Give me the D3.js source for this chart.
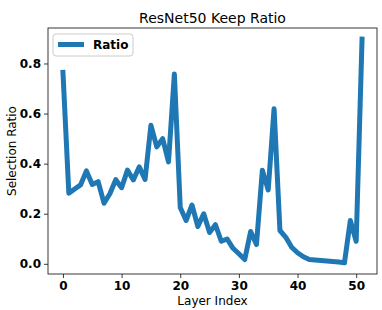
<!DOCTYPE html>
<html>
<head>
<meta charset="utf-8">
<script src="https://cdn.jsdelivr.net/npm/d3@7"></script>
<style>
  body { margin: 0; background: #fff; }
  svg { display: block; font-family: "DejaVu Sans", sans-serif; }
</style>
</head>
<body>
<div id="chart"></div>
<script>
// keep ratio per layer
const layerIndex = d3.range(52)
const ratio = [0.764, 0.282, 0.299, 0.315, 0.371, 0.317, 0.328, 0.242, 0.28, 0.336,
  0.304, 0.374, 0.335, 0.387, 0.337, 0.553, 0.467, 0.5, 0.407, 0.758,
  0.225, 0.173, 0.235, 0.149, 0.2, 0.125, 0.156, 0.09, 0.099, 0.062,
  0.04, 0.017, 0.129, 0.077, 0.374, 0.295, 0.619, 0.133, 0.106, 0.066,
  0.044, 0.028, 0.017, 0.015, 0.013, 0.011, 0.009, 0.007, 0.004, 0.173,
  0.09, 0.897]
const xTicks = [0, 10, 20, 30, 40, 50]
const yTicks = [0, 0.2, 0.4, 0.6, 0.8]
const seriesName = 'Ratio'
const title = 'ResNet50 Keep Ratio'

const width = 382, height = 310
const margin = { top: 28, right: 5, bottom: 36, left: 48 }
const color = '#1f77b4'

const svg = d3.select('#chart').append('svg')
  .attr('width', width)
  .attr('height', height)

// matplotlib-like 5% padding on data limits
const pad = (lo, hi) => { const m = (hi - lo) * 0.05; return [lo - m, hi + m] }

const x = d3.scaleLinear()
  .domain(pad(d3.min(layerIndex), d3.max(layerIndex)))
  .range([margin.left, width - margin.right])

const y = d3.scaleLinear()
  .domain(pad(d3.min(ratio), d3.max(ratio)))
  .range([height - margin.bottom, margin.top])

const line = d3.line()
  .x((d, i) => x(layerIndex[i]))
  .y(d => y(d))

svg.append('path')
  .datum(ratio)
  .attr('fill', 'none')
  .attr('stroke', color)
  .attr('stroke-width', 5)
  .attr('stroke-linejoin', 'round')
  .attr('stroke-linecap', 'square')
  .attr('d', line)

// axes
const xAxis = svg.append('g')
  .attr('transform', `translate(0,${height - margin.bottom})`)
  .call(d3.axisBottom(x).tickValues(xTicks).tickSize(4).tickPadding(3).tickFormat(d3.format('d')))

const yAxis = svg.append('g')
  .attr('transform', `translate(${margin.left},0)`)
  .call(d3.axisLeft(y).tickValues(yTicks).tickSize(4).tickPadding(3).tickFormat(d3.format('.1f')))

for (const ax of [xAxis, yAxis]) {
  ax.select('.domain').remove()
  ax.selectAll('.tick line').attr('stroke', '#222').attr('stroke-width', 0.9)
  ax.selectAll('.tick text')
    .attr('fill', '#000')
    .attr('font-size', 12)
    .attr('font-weight', 'bold')
    .attr('font-family', 'DejaVu Sans')
}

// frame
svg.append('rect')
  .attr('x', margin.left)
  .attr('y', margin.top)
  .attr('width', width - margin.left - margin.right)
  .attr('height', height - margin.top - margin.bottom)
  .attr('fill', 'none')
  .attr('stroke', '#222')
  .attr('stroke-width', 0.9)

// labels
svg.append('text')
  .attr('x', (margin.left + width - margin.right) / 2)
  .attr('y', 23)
  .attr('text-anchor', 'middle')
  .attr('font-size', 14)
  .text(title)

svg.append('text')
  .attr('x', (margin.left + width - margin.right) / 2)
  .attr('y', 305)
  .attr('text-anchor', 'middle')
  .attr('font-size', 12)
  .text('Layer Index')

svg.append('text')
  .attr('transform', `translate(16,${(margin.top + height - margin.bottom) / 2}) rotate(-90)`)
  .attr('text-anchor', 'middle')
  .attr('font-size', 12)
  .text('Selection Ratio')

// legend
const legend = svg.append('g').attr('transform', `translate(${margin.left + 5},${margin.top + 6})`)
legend.append('rect')
  .attr('width', 80)
  .attr('height', 22)
  .attr('rx', 3)
  .attr('fill', '#fff')
  .attr('fill-opacity', 0.8)
  .attr('stroke', '#ccc')
legend.append('line')
  .attr('x1', 5).attr('x2', 31)
  .attr('y1', 10.5).attr('y2', 10.5)
  .attr('stroke', color)
  .attr('stroke-width', 5)
legend.append('text')
  .attr('x', 40)
  .attr('y', 15)
  .attr('font-size', 12)
  .attr('font-weight', 'bold')
  .text(seriesName)
</script>
</body>
</html>
